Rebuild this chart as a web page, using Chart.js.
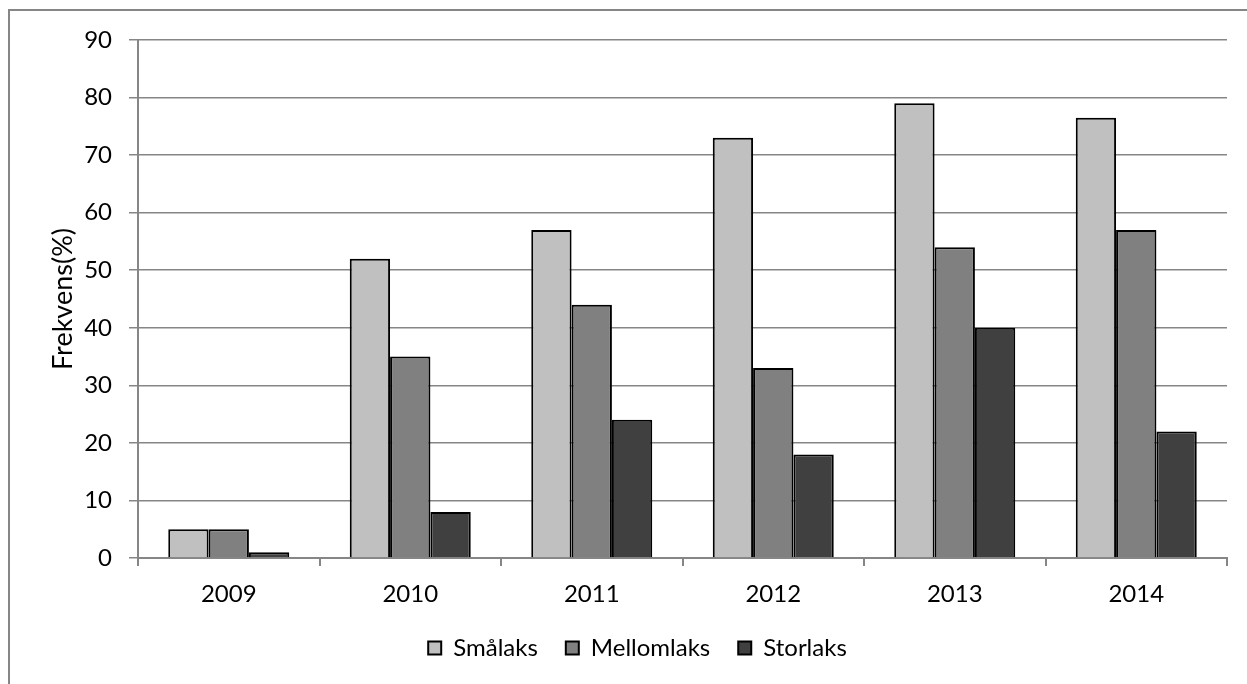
<!DOCTYPE html>
<html>
<head>
<meta charset="utf-8">
<script src="https://cdn.jsdelivr.net/npm/chart.js@4/dist/chart.umd.min.js"></script>
<style>
  html, body { margin: 0; padding: 0; background: #fff; }
  canvas { display: block; }
</style>
</head>
<body>
<canvas id="c" width="1247" height="684"></canvas>
<script>
// Catch frequency by size class per year
const years = ['2009', '2010', '2011', '2012', '2013', '2014'];
const smalaks = [5, 52, 57, 73, 79, 76.5];
const mellomlaks = [5, 35, 44, 33, 54, 57];
const storlaks = [1, 8, 24, 18, 40, 22];
const yTicks = [0, 10, 20, 30, 40, 50, 60, 70, 80, 90];

const FONT = 'Lato, Calibri, sans-serif';
const FS = 24;
const GRID = '#868686';

// Outer frame around the whole chart, and legend nudged toward the centre
const framePlugin = {
  id: 'frame',
  afterLayout(chart) {
    if (chart.legend) chart.legend.left += 48;
  },
  beforeDraw(chart) {
    const ctx = chart.ctx;
    ctx.save();
    ctx.fillStyle = '#fff';
    ctx.fillRect(0, 0, chart.width, chart.height);
    ctx.strokeStyle = GRID;
    ctx.lineWidth = 2;
    ctx.strokeRect(9, 10, chart.width + 20, chart.height + 20);
    ctx.restore();
  }
};

const bar = (label, data, color) => ({
  label, data,
  backgroundColor: color,
  borderColor: '#000',
  borderWidth: 2,
  categoryPercentage: 3 / 4.5,
  barPercentage: 1
});

new Chart(document.getElementById('c'), {
  type: 'bar',
  data: {
    labels: years,
    datasets: [
      bar('Smålaks', smalaks, '#c0c0c0'),
      bar('Mellomlaks', mellomlaks, '#808080'),
      bar('Storlaks', storlaks, '#404040')
    ]
  },
  options: {
    responsive: false,
    animation: false,
    layout: { padding: { top: 40, right: 20, left: 0, bottom: 14 } },
    plugins: {
      tooltip: { enabled: false },
      legend: {
        position: 'bottom',
        labels: {
          font: { family: FONT, size: FS },
          color: '#000',
          boxWidth: 13,
          boxHeight: 13,
          padding: 28
        }
      }
    },
    scales: {
      x: {
        grid: { offset: true, drawOnChartArea: false, drawTicks: true, tickLength: 8, color: GRID, lineWidth: 2 },
        border: { color: GRID, width: 2 },
        ticks: { font: { family: FONT, size: FS }, color: '#000', padding: 14 },
        afterFit(s) { s.height = 50; }
      },
      y: {
        min: 0, max: 90,
        afterBuildTicks(s) { s.ticks = yTicks.map(v => ({ value: v })); },
        grid: { color: GRID, lineWidth: 1.5, tickLength: 9 },
        border: { color: GRID, width: 2 },
        ticks: { font: { family: FONT, size: FS }, color: '#000', padding: 17 },
        title: {
          display: true, text: 'Frekvens(%)',
          font: { family: FONT, size: 27 }, color: '#000',
          padding: { top: 47, bottom: 0 }
        },
        afterFit(s) { s.width = 138; }
      }
    }
  },
  plugins: [framePlugin]
});
</script>
</body>
</html>
